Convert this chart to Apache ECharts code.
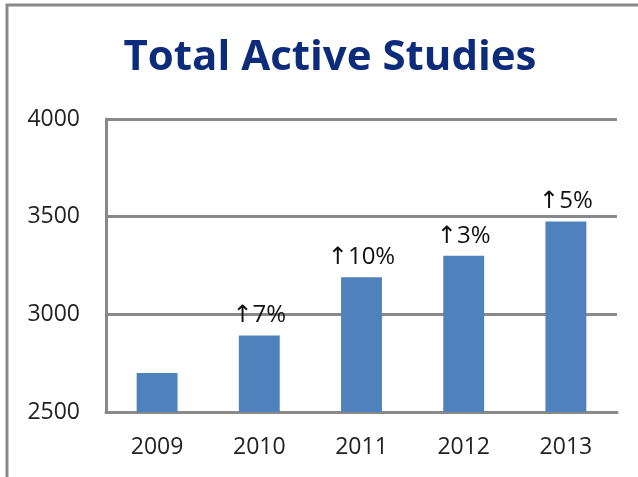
<!DOCTYPE html>
<html>
<head>
<meta charset="utf-8">
<script src="https://cdn.jsdelivr.net/npm/echarts@6/dist/echarts.min.js"></script>
<style>
  html, body { margin: 0; padding: 0; background: #fff; }
  #chart { width: 638px; height: 477px; }
</style>
</head>
<body>
<div id="chart"></div>
<script>
// data
const years = ["2009", "2010", "2011", "2012", "2013"];
const totals = [2700, 2892, 3190, 3300, 3475];
const growth = ["", "↑7%", "↑10%", "↑3%", "↑5%"];
const yTicks = [2500, 3000, 3500, 4000];

const gray = "#898989";
const font = "'Open Sans', 'DejaVu Sans', sans-serif";

let myChart = echarts.init(document.getElementById("chart"));

const option = {
  animation: false,
  title: {
    text: "Total Active Studies",
    left: 325,
    textAlign: "center",
    top: 32,
    textStyle: {
      fontFamily: "'Open Sans', sans-serif",
      fontWeight: "bold",
      fontSize: 42,
      color: "#0c2b7b"
    }
  },
  graphic: [
    {
      type: "rect",
      shape: { x: 7, y: 5, width: 660, height: 500 },
      style: { fill: "none", stroke: gray, lineWidth: 3 },
      silent: true
    }
  ],
  grid: { left: 106, right: 21, top: 119, bottom: 65 },
  xAxis: {
    type: "category",
    data: years,
    axisTick: { show: false },
    axisLine: { lineStyle: { color: gray, width: 3 } },
    axisLabel: { color: "#222", fontSize: 23, fontFamily: font, margin: 24 }
  },
  yAxis: {
    type: "value",
    min: yTicks[0],
    max: yTicks[yTicks.length - 1],
    interval: 500,
    axisLine: { show: true, lineStyle: { color: gray, width: 3 } },
    axisTick: { show: false },
    splitLine: { lineStyle: { color: gray, width: 3 } },
    axisLabel: {
      color: "#222", fontSize: 23, fontFamily: font, margin: 26,
      formatter: (v) => String(v)
    }
  },
  series: [
    {
      type: "bar",
      data: totals,
      barWidth: "40%",
      itemStyle: { color: "#4f81bd" },
      label: {
        show: true,
        position: "top",
        distance: 8,
        color: "#111",
        fontSize: 24,
        fontFamily: font,
        formatter: (p) => growth[p.dataIndex]
      }
    }
  ]
};

option && myChart.setOption(option);
</script>
</body>
</html>
